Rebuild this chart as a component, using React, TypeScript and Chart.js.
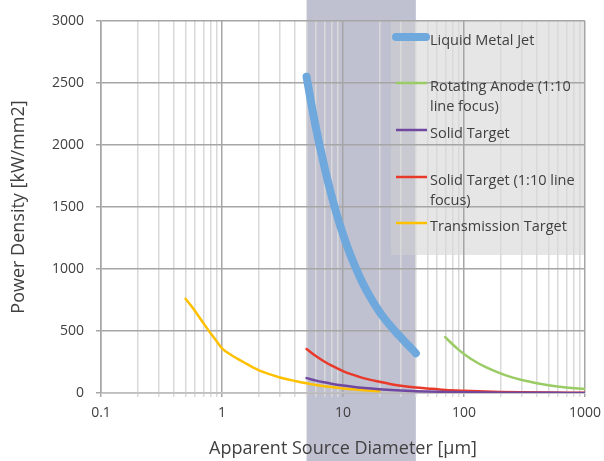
import React, { useEffect, useRef } from "react";
import { Chart, registerables } from "chart.js";

Chart.register(...registerables);

// ---- data ----
const lmjX = [5, 5.5, 6, 6.5, 7, 8, 9, 10, 11, 12, 13, 14, 16, 18, 20, 22, 25, 28, 30, 33, 35, 38, 40];
const lmjY = [2550, 2320, 2130, 1970, 1830, 1600, 1420, 1280, 1165, 1070, 990, 920, 810, 725, 655, 600, 535, 480, 450, 405, 380, 345, 320];

const anodeX = [70, 80, 90, 100, 120, 150, 200, 250, 300, 400, 500, 700, 1000];
const anodeY = [450, 395, 350, 315, 262, 210, 158, 126, 105, 79, 63, 45, 32];

const solidX = [5, 6, 7, 8, 10, 12, 15, 20, 25, 30, 40, 50, 70, 100, 150, 200, 300, 500, 700, 1000];
const solidY = [120, 100, 86, 75, 60, 50, 40, 30, 24, 20, 15, 12, 9, 6, 4, 3, 2, 1.2, 0.9, 0.6];

const solidLineX = [5, 6, 7, 8, 10, 12, 15, 20, 25, 30, 40, 50, 70, 100, 150, 200, 300, 500, 700, 1000];
const solidLineY = [355, 296, 254, 222, 177, 148, 118, 90, 71, 59, 44, 36, 25, 18, 12, 9, 6, 3.6, 2.5, 1.8];

const transX = [0.5, 0.6, 0.7, 0.8, 0.9, 1, 1.2, 1.5, 2, 2.5, 3, 4, 5, 6, 7, 8, 10, 12, 15, 20];
const transY = [760, 660, 565, 485, 420, 360, 305, 250, 185, 150, 125, 97, 78, 65, 55, 48, 36, 30, 22, 14];

const seriesNames = [
  "Liquid Metal Jet",
  "Rotating Anode (1:10 line focus)",
  "Solid Target",
  "Solid Target (1:10 line focus)",
  "Transmission Target",
];
const legendLines = [
  ["Liquid Metal Jet"],
  ["Rotating Anode (1:10", "line focus)"],
  ["Solid Target"],
  ["Solid Target (1:10 line", "focus)"],
  ["Transmission Target"],
];
const seriesColors = ["#6fa8dc", "#9bcb65", "#7048a0", "#e8392b", "#ffc000"];
const seriesWidths = [8, 2.5, 2.5, 2.5, 2.5];

const xMajorTicks = [0.1, 1, 10, 100, 1000];
const xTickLabels = ["0.1", "1", "10", "100", "1000"];
const minorMultipliers = [2, 3, 4, 5, 6, 7, 8, 9];
const bandRange = [5, 40];

const xTitle = "Apparent Source Diameter [µm]";
const yTitle = "Power Density [kW/mm2]";

const FONT = "'Open Sans', 'DejaVu Sans', sans-serif";
const TEXT = "#404040";

function isMajor(v: number) {
  return xMajorTicks.some((m) => Math.abs(m - v) / m < 1e-6);
}

const bgPlugin = {
  id: "bgPlugin",
  beforeDraw(chart: any) {
    const { ctx } = chart;
    const xs = chart.scales.x;
    const ca = chart.chartArea;
    const x0 = xs.getPixelForValue(bandRange[0]);
    const x1 = xs.getPixelForValue(bandRange[1]);
    ctx.save();
    ctx.fillStyle = "rgb(191,192,208)";
    ctx.fillRect(x0, 0, x1 - x0, chart.height);
    ctx.fillStyle = "rgba(210,210,210,0.55)";
    ctx.fillRect(391, ca.top - 1, ca.right - 391, 255 - ca.top + 1);
    ctx.restore();
  },
  afterDraw(chart: any) {
    const { ctx } = chart;
    const lineY = [37, 83, 130, 177, 223];
    ctx.save();
    ctx.font = `14.5px ${FONT}`;
    ctx.fillStyle = TEXT;
    ctx.textBaseline = "middle";
    legendLines.forEach((lines, i) => {
      ctx.strokeStyle = seriesColors[i];
      ctx.lineWidth = seriesWidths[i];
      ctx.lineCap = i === 0 ? "round" : "butt";
      ctx.beginPath();
      ctx.moveTo(396, lineY[i]);
      ctx.lineTo(i === 0 ? 426 : 427, lineY[i]);
      ctx.stroke();
      lines.forEach((t, j) => {
        ctx.fillText(t, 430, lineY[i] + 4 + j * 20);
      });
    });
    ctx.restore();
  },
};

export default function App() {
  const ref = useRef<HTMLCanvasElement>(null);
  useEffect(() => {
    if (!ref.current) return;
    const allX = [lmjX, anodeX, solidX, solidLineX, transX];
    const allY = [lmjY, anodeY, solidY, solidLineY, transY];
    const xTicks: number[] = [];
    xMajorTicks.forEach((d, i) => {
      xTicks.push(d);
      if (i < xMajorTicks.length - 1) minorMultipliers.forEach((m) => xTicks.push(d * m));
    });
    const chart = new Chart(ref.current, {
      type: "line",
      data: {
        datasets: seriesNames.map((name, i) => ({
          label: name,
          data: allX[i].map((x, k) => ({ x, y: allY[i][k] })),
          borderColor: seriesColors[i],
          backgroundColor: seriesColors[i],
          borderWidth: seriesWidths[i],
          pointRadius: 0,
          borderCapStyle: "round",
          borderJoinStyle: "round",
          cubicInterpolationMode: "monotone",
          fill: false,
        })),
      },
      options: {
        responsive: false,
        animation: false,
        devicePixelRatio: 1,
        layout: { padding: { top: 21, right: 19, left: 0, bottom: 0 } },
        plugins: { legend: { display: false }, tooltip: { enabled: false } },
        scales: {
          x: {
            type: "logarithmic",
            min: 0.1,
            max: 1000,
            afterBuildTicks: (scale: any) => {
              scale.ticks = xTicks.map((v) => ({ value: v, major: isMajor(v) }));
            },
            afterFit: (scale: any) => {
              scale.height = 68;
              scale.paddingRight = 0;
              scale.paddingLeft = 0;
            },
            grid: {
              color: (c: any) => (c.tick && isMajor(c.tick.value) ? "#a6a6a6" : "#d9d9d9"),
              lineWidth: 1.5,
              tickLength: 4,
            },
            border: { color: "#bfbfbf", width: 1.5 },
            ticks: {
              autoSkip: false,
              maxRotation: 0,
              padding: 8,
              color: TEXT,
              font: { family: FONT, size: 14 },
              callback: (v: any) => {
                const idx = xMajorTicks.findIndex((m) => Math.abs(m - v) / m < 1e-6);
                return idx >= 0 ? xTickLabels[idx] : "";
              },
            },
            title: {
              display: true,
              text: xTitle,
              color: TEXT,
              font: { family: FONT, size: 18 },
              padding: { top: 0, bottom: 1 },
            },
          },
          y: {
            type: "linear",
            min: 0,
            max: 3000,
            afterFit: (scale: any) => {
              scale.width = 101;
              scale.paddingTop = 0;
              scale.paddingBottom = 0;
            },
            grid: { color: "#a6a6a6", lineWidth: 1.5, tickLength: 5 },
            border: { color: "#a6a6a6", width: 1.5 },
            ticks: {
              stepSize: 500,
              padding: 12,
              color: TEXT,
              font: { family: FONT, size: 14 },
              callback: (v: any) => String(v),
            },
            title: {
              display: true,
              text: yTitle,
              color: TEXT,
              font: { family: FONT, size: 18 },
              padding: { top: 8, bottom: 0 },
            },
          },
        },
      },
      plugins: [bgPlugin],
    } as any);
    return () => chart.destroy();
  }, []);
  return (
    <div style={{ position: "absolute", left: 0, top: 0, width: 604, height: 461 }}>
      <canvas ref={ref} width={604} height={461} style={{ width: 604, height: 461, display: "block" }} />
    </div>
  );
}
